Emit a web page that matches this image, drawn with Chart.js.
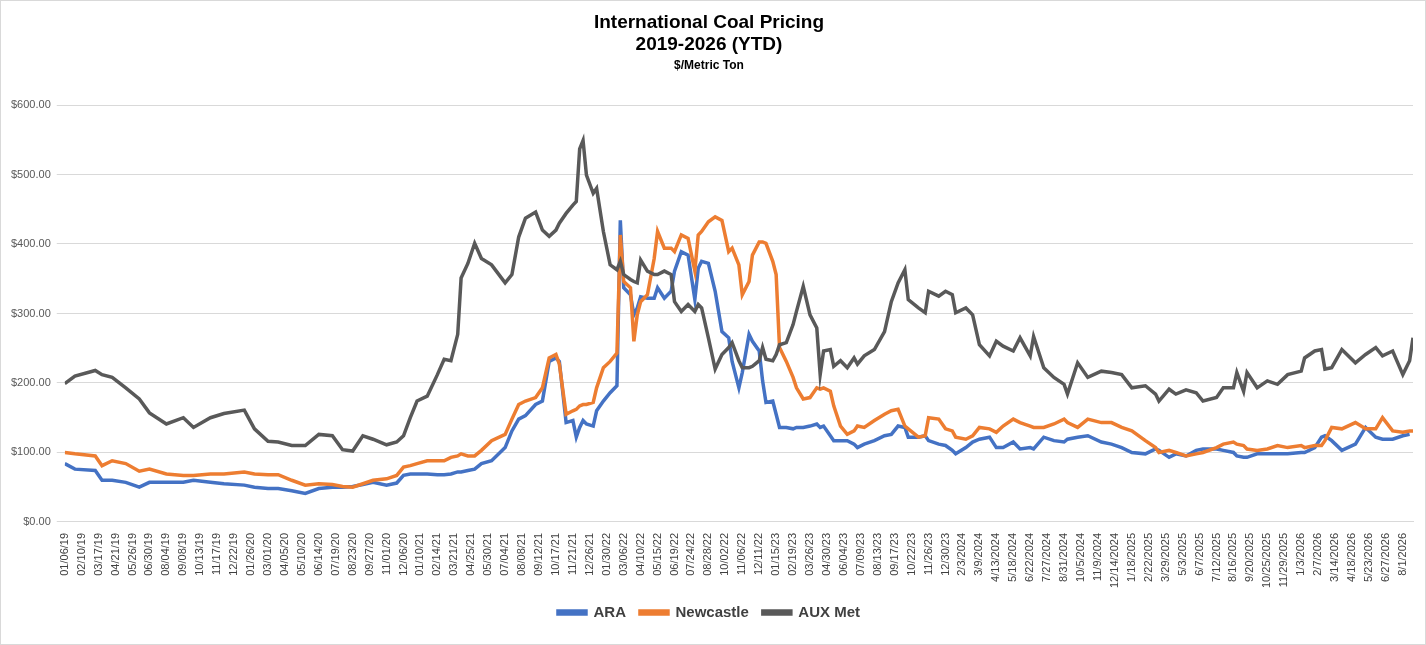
<!DOCTYPE html>
<html><head><meta charset="utf-8">
<script src="https://cdn.jsdelivr.net/npm/chart.js@4"></script>
<style>html,body{margin:0;padding:0;background:#fff}#wrap{width:1424px;height:643px;border:1px solid #d9d9d9}</style>
</head><body><div id="wrap"><canvas id="c" width="1424" height="643"></canvas></div>
<script>
const tickLabels = ["01/06/19","02/10/19","03/17/19","04/21/19","05/26/19","06/30/19","08/04/19","09/08/19","10/13/19","11/17/19","12/22/19","01/26/20","03/01/20","04/05/20","05/10/20","06/14/20","07/19/20","08/23/20","09/27/20","11/01/20","12/06/20","01/10/21","02/14/21","03/21/21","04/25/21","05/30/21","07/04/21","08/08/21","09/12/21","10/17/21","11/21/21","12/26/21","01/30/22","03/06/22","04/10/22","05/15/22","06/19/22","07/24/22","08/28/22","10/02/22","11/06/22","12/11/22","01/15/23","02/19/23","03/26/23","04/30/23","06/04/23","07/09/23","08/13/23","09/17/23","10/22/23","11/26/23","12/30/23","2/3/2024","3/9/2024","4/13/2024","5/18/2024","6/22/2024","7/27/2024","8/31/2024","10/5/2024","11/9/2024","12/14/2024","1/18/2025","2/22/2025","3/29/2025","5/3/2025","6/7/2025","7/12/2025","8/16/2025","9/20/2025","10/25/2025","11/29/2025","1/3/2026","2/7/2026","3/14/2026","4/18/2026","5/23/2026","6/27/2026","8/1/2026"];
// week index since 01/06/19
const weeks = [0,3,9,11,14,18,22,25,30,35,38,43,47,53,56,60,63,67,71,75,79,82,85,88,91,95,98,100,102,104,107,110,112,114,116,117,119,121,123,126,130,132,134,136,139,141,143,145,146,148,150,151,152,153,154,156,157,159,161,163,164,165,167,168,169,170,172,174,175,177,179,180,182,184,186,187,188,190,192,194,196,197,199,200,202,203,205,206,207,209,210,211,213,215,216,218,220,222,223,224,226,227,229,231,233,234,236,239,242,244,246,248,249,252,254,255,258,260,262,263,266,268,270,273,275,277,280,282,285,286,289,292,295,296,299,302,306,309,312,315,319,322,323,326,328,331,334,336,340,342,345,346,348,349,352,355,358,361,365,366,369,371,372,374,377,381,384,387,389,392,395,397,398];
const ara = [84,76,74,60,60,57,50,57,57,57,60,57,55,53,50,48,48,45,41,48,50,50,51,54,57,53,56,67,69,69,69,68,68,69,72,72,74,76,84,88,107,131,148,153,169,174,231,236,231,143,146,122,136,146,141,138,160,174,186,196,434,337,327,298,308,324,322,322,337,322,332,361,389,384,320,365,375,372,332,274,265,231,193,215,270,260,246,203,172,174,155,136,136,134,136,136,138,141,136,138,124,117,117,117,112,107,112,117,124,126,138,136,122,122,124,117,112,110,103,98,107,115,119,122,107,107,115,105,107,105,122,117,115,119,122,124,115,112,107,100,98,105,103,93,98,95,103,105,105,103,100,95,93,93,98,98,98,98,100,100,107,122,124,117,103,112,136,122,119,119,124,126];
const newcastle = [100,98,95,81,88,84,73,76,69,67,67,69,69,72,69,68,68,60,53,55,54,51,50,55,60,62,67,79,81,84,88,88,88,93,95,98,95,95,103,117,126,148,169,174,179,193,236,241,227,155,160,162,167,169,169,172,193,222,231,243,413,346,337,260,298,317,327,379,418,394,394,389,413,408,361,413,418,432,439,434,389,394,370,327,346,384,403,403,401,375,356,251,231,208,193,177,179,193,191,193,188,167,138,126,131,138,136,146,155,160,162,138,134,122,124,150,148,134,131,122,119,124,136,134,129,138,148,143,138,136,136,141,148,143,136,148,143,143,136,131,117,107,100,103,100,95,98,100,107,112,115,112,110,105,103,105,110,107,110,107,110,110,117,136,134,143,134,134,150,131,129,131,131,134];
const auxMet = [199,210,218,212,208,193,177,157,141,150,136,150,156,161,134,116,115,110,110,126,124,104,102,124,119,111,115,124,150,174,181,212,234,232,270,351,372,401,379,370,344,356,410,437,446,420,411,420,430,444,456,461,537,549,499,473,480,418,370,363,375,356,349,346,344,377,361,356,356,361,356,317,303,313,303,313,308,265,220,241,251,258,232,222,222,224,232,251,234,232,241,255,258,284,303,339,298,279,212,246,248,224,232,222,236,227,239,248,274,317,344,363,320,308,301,332,325,332,327,301,308,298,255,239,260,253,246,265,239,267,222,208,198,184,229,208,217,215,212,193,196,184,174,191,184,190,186,174,179,193,193,215,188,215,193,203,198,212,217,236,246,248,220,222,248,229,241,251,239,246,212,232,265];

const mk = (arr) => weeks.map((w, i) => ({x: w, y: arr[i]}));
const font = "'Liberation Sans', Arial, sans-serif";
new Chart(document.getElementById('c'), {
  type: 'line',
  data: { datasets: [
    {label:'ARA', data: mk(ara), borderColor:'#4472C4', backgroundColor:'#4472C4', order:3},
    {label:'Newcastle', data: mk(newcastle), borderColor:'#ED7D31', backgroundColor:'#ED7D31', order:2},
    {label:'AUX Met', data: mk(auxMet), borderColor:'#595959', backgroundColor:'#595959', order:1}
  ]},
  options: {
    responsive:false, animation:false,
    layout:{padding:{left:4,right:12,top:4,bottom:14}},
    elements:{point:{radius:0}, line:{borderWidth:3.5, tension:0}},
    plugins:{
      title:{display:true, text:['International Coal Pricing','2019-2026 (YTD)'], color:'#000', font:{family:font,size:19,weight:'bold'}, padding:{top:6,bottom:2}},
      subtitle:{display:true, text:'$/Metric Ton', color:'#000', font:{family:font,size:12,weight:'bold'}, padding:{bottom:32}},
      legend:{position:'bottom', labels:{color:'#404040', font:{family:font,size:15,weight:'bold'}, boxWidth:28, boxHeight:3, padding:14,
        sort:(a,b)=>a.datasetIndex-b.datasetIndex}},
      tooltip:{enabled:false}
    },
    scales:{
      x:{type:'linear', min:0, max:398, grid:{display:false}, border:{color:'#d9d9d9'},
        afterBuildTicks:(s)=>{s.ticks = tickLabels.map((_,i)=>({value:i*5}));},
        ticks:{autoSkip:false, maxRotation:90, minRotation:90, color:'#404040', font:{family:font,size:11},
          callback:(v)=>tickLabels[Math.round(v/5)]}},
      y:{min:0, max:600, grid:{color:'#d9d9d9'}, border:{display:false},
        ticks:{stepSize:100, color:'#595959', font:{family:font,size:11}, padding:6, callback:(v)=>'$'+v.toFixed(2)}}
    }
  }
});
</script></body></html>
